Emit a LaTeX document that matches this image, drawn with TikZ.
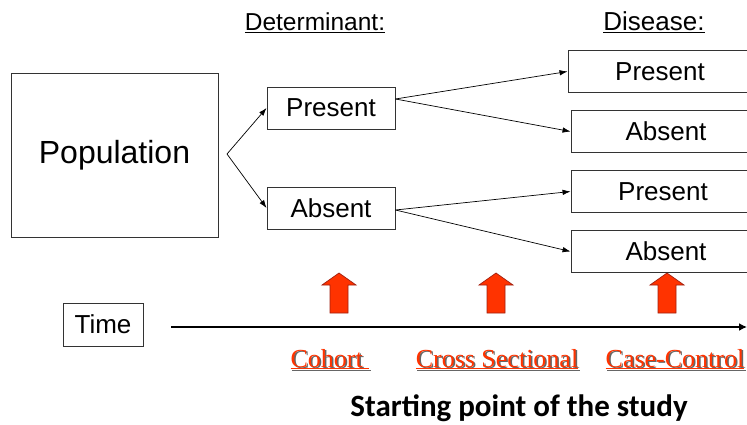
\documentclass[tikz,border=0pt]{standalone}
\usepackage{fontspec}
\usetikzlibrary{arrows.meta}
\newfontfamily\arialf{Liberation Sans}
\newfontfamily\seriff{Liberation Serif}
\newfontfamily\calibf{Carlito}
\definecolor{boxline}{HTML}{333333}
\definecolor{studyred}{HTML}{FF3300}
\definecolor{arrowedge}{HTML}{A02010}
\tikzset{
  box/.style={draw=boxline, line width=0.9pt, inner sep=0pt, font=\arialf\fontsize{26}{30}\selectfont},
  link/.style={-{Latex[length=8pt,width=5.5pt]}, line width=0.7pt},
  header/.style={font=\arialf\fontsize{24.5}{28}\selectfont, inner sep=0pt, anchor=base},
  studylabel/.style={font=\seriff\fontsize{26}{30}\selectfont, inner sep=0pt, anchor=base},
  blockarrow/.style={fill=studyred, draw=arrowedge, line width=0.7pt, line join=miter},
}
% upward block arrow: #1 centre x, bottom y 313, tip y 273
\newcommand\upblock[1]{%
  \draw[blockarrow] (#1-9,313) -- (#1-9,285) -- (#1-17,285) -- (#1,273)
    -- (#1+17,285) -- (#1+9,285) -- (#1+9,313) -- cycle;}
% red underlined label with a dark drop shadow: name, x, y, text
\newcommand\studytext[4]{%
  \node[studylabel, text=black!60] at (#2+1.5,#3+1.5) {\underline{#4}};
  \node[studylabel, text=studyred] (#1) at (#2,#3) {\underline{#4}};}
\begin{document}
\begin{tikzpicture}[x=1pt,y=-1pt]
\useasboundingbox (0,0) rectangle (747,425);

% headers
\node[header] (hdet) at (315,31) {\underline{Determinant:}};
\node[header, font=\arialf\fontsize{26}{30}\selectfont] (hdis) at (654,31) {\underline{Disease:}};

% population and determinant boxes
\node[box, minimum width=207pt, minimum height=164pt, font=\arialf\fontsize{32}{36}\selectfont] (pop) at (114.5,155) {\raisebox{-3pt}{Population}};
\node[box, minimum width=128pt, minimum height=42pt] (dp) at (331,108) {Present};
\node[box, minimum width=128pt, minimum height=42pt] (da) at (331,208) {Absent};

% disease boxes (running off the right edge)
\node[box, minimum width=184pt, minimum height=42pt] (sp1) at (660,71.5) {Present};
\node[box, minimum width=190pt, minimum height=42pt] (sa1) at (666,131.5) {Absent};
\node[box, minimum width=190pt, minimum height=42pt] (sp2) at (666,191.5) {\hspace*{-6pt}Present};
\node[box, minimum width=190pt, minimum height=42pt] (sa2) at (666,251.5) {Absent};

% branching connectors
\coordinate (split) at (227,154);
\draw[link] (split) -- (dp.west);
\draw[link] (split) -- (da.west);
\draw[link] ([yshift=9pt]dp.east) -- (sp1.west);
\draw[link] ([yshift=9pt]dp.east) -- (sa1.west);
\draw[link] ([yshift=-2pt]da.east) -- (sp2.west);
\draw[link] ([yshift=-2pt]da.east) -- (sa2.west);

% time axis
\node[box, minimum width=80pt, minimum height=43pt] (time) at (103,324.5) {Time};
\coordinate (tstart) at (171,327);
\coordinate (tend) at (747,327);
\draw[line width=2.5pt, -{Latex[length=8pt,width=8pt]}] (tstart) -- (tend);

% starting points of the study designs
\upblock{339}
\upblock{496}
\upblock{667}

\studytext{cohort}{330}{367}{Cohort\ }
\studytext{cross}{497}{367}{Cross Sectional}
\studytext{casectl}{675}{367}{Case-Control}

\node[font=\calibf\bfseries\fontsize{31}{36}\selectfont, inner sep=0pt, anchor=base] (start) at (519,416) {Starting point of the study};
\end{tikzpicture}
\end{document}
